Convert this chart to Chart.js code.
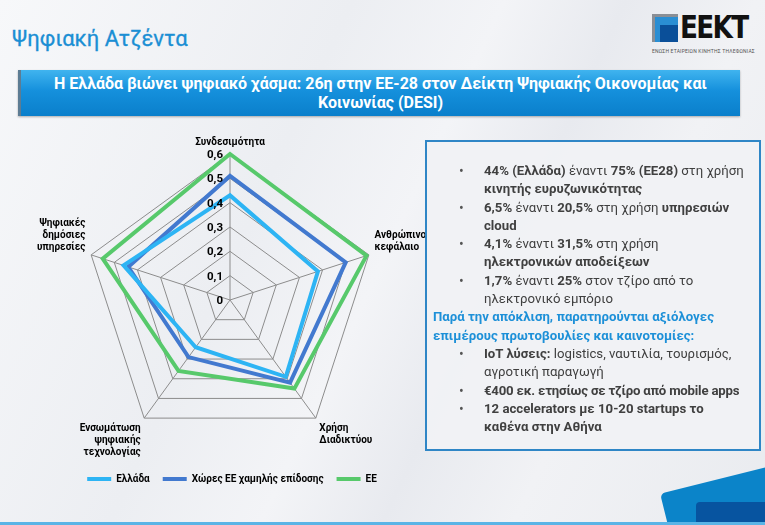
<!DOCTYPE html>
<html>
<head>
<meta charset="utf-8">
<script src="https://cdn.jsdelivr.net/npm/chart.js@4/dist/chart.umd.min.js"></script>
<style>
  html, body { margin: 0; padding: 0; }
  body {
    width: 765px; height: 525px; overflow: hidden; position: relative;
    font-family: Roboto, "Noto Sans", sans-serif;
    background: linear-gradient(115deg, #f7f8fa 0%, #eceef2 35%, #f3f4f7 50%, #e8eaef 62%, #f1f2f5 75%, #e9ebef 100%);
  }
  #title { position: absolute; left: 12px; top: 26px; font-size: 22px; color: #1b8fd4; -webkit-text-stroke: 0.3px #1b8fd4; }
  #logo { position: absolute; left: 652px; top: 14px; width: 90px; height: 42px; }
  #logo .sq1 { position: absolute; left: 3px; top: 3px; width: 23px; height: 25px; background: #2a8ed3; }
  #logo .sq2 { position: absolute; left: 8px; top: 11px; width: 18px; height: 17px; background: #0a4f99; }
  #logo .sq0 { position: absolute; left: 0; top: 0; width: 26px; height: 28px; background: #8a8f96; z-index: -1; }
  #logo .txt { position: absolute; left: 28px; top: -6px; font: bold 32px "DejaVu Sans", sans-serif; letter-spacing: -2px; color: #111; transform: scaleX(0.82); transform-origin: left; }
  #logo .tag { position: absolute; left: 0; top: 34px; font-size: 5px; color: #555; letter-spacing: 0.2px; white-space: nowrap; }
  #banner {
    position: absolute; left: 18px; top: 70px; width: 722px; height: 46px;
    background: linear-gradient(#40b4ef, #1590dc 45%, #0a7fcb);
    border-left: 3px solid #5d7c93; box-sizing: border-box;
    color: #fff; font-weight: bold; font-size: 16px; line-height: 19px;
    text-align: center; padding-top: 4px;
    box-shadow: 0 1px 2px rgba(0,0,0,0.3);
  }
  #wrap { position: absolute; left: 22px; top: 133px; width: 420px; height: 361px; }
  #box {
    position: absolute; left: 425px; top: 140px; width: 336px; height: 311px;
    border: 2px solid #2f86c6; box-sizing: border-box;
    background: rgba(240,241,245,0.96);
    color: #404040; font-size: 13.2px; line-height: 18.3px;
    padding: 20px 2px 0 6px; white-space: nowrap;
  }
  #box ul { margin: 0; padding: 0; list-style: none; }
  #box li { position: relative; padding-left: 51px; }
  #box li::before { content: "•"; position: absolute; left: 26px; font-size: 14px; color: #555; }
  #box b { font-weight: bold; }
  #box .blue { color: #1d90d8; font-weight: bold; }
  #corner1 { position: absolute; left: 668px; top: 478px; width: 120px; height: 80px; background: #0b84c9; transform: rotate(-14deg); border-radius: 5px; }
  #corner2 { position: absolute; left: 696px; top: 502px; width: 90px; height: 40px; background: #0754a0; border-radius: 4px; }
  #bottomline { position: absolute; left: 0; top: 522px; width: 765px; height: 3px; background: #5ab4e6; }
</style>
</head>
<body>
<div id="title">Ψηφιακή Ατζέντα</div>
<div id="logo">
  <div class="sq0"></div><div class="sq1"></div><div class="sq2"></div>
  <div class="txt">ΕΕΚΤ</div>
  <div class="tag">ΕΝΩΣΗ ΕΤΑΙΡΕΙΩΝ ΚΙΝΗΤΗΣ ΤΗΛΕΦΩΝΙΑΣ</div>
</div>
<div id="banner">Η Ελλάδα βιώνει ψηφιακό χάσμα: 26η στην ΕΕ-28 στον Δείκτη Ψηφιακής Οικονομίας και<br>Κοινωνίας (DESI)</div>
<div id="wrap"><canvas id="radar"></canvas></div>
<div id="box">
  <ul>
    <li><b>44% (Ελλάδα)</b> έναντι <b>75% (ΕΕ28)</b> στη χρήση<br><b>κινητής ευρυζωνικότητας</b></li>
    <li><b>6,5%</b> έναντι <b>20,5%</b> στη χρήση <b>υπηρεσιών</b><br><b>cloud</b></li>
    <li><b>4,1%</b> έναντι <b>31,5%</b> στη χρήση<br><b>ηλεκτρονικών αποδείξεων</b></li>
    <li><b>1,7%</b> έναντι <b>25%</b> στον τζίρο από το<br>ηλεκτρονικό εμπόριο</li>
  </ul>
  <div class="blue">Παρά την απόκλιση, παρατηρούνται αξιόλογες<br>επιμέρους πρωτοβουλίες και καινοτομίες:</div>
  <ul>
    <li><b>IoT λύσεις:</b> logistics, ναυτιλία, τουρισμός,<br>αγροτική παραγωγή</li>
    <li><b style="letter-spacing:-0.2px">€400 εκ. ετησίως σε τζίρο από mobile apps</b></li>
    <li><b>12 accelerators με 10-20 startups το<br>καθένα στην Αθήνα</b></li>
  </ul>
</div>
<div id="corner1"></div>
<div id="corner2"></div>
<div id="bottomline"></div>

<script>
var axesLabels = [
  'Συνδεσιμότητα',
  ['Ανθρώπινο', 'κεφάλαιο'],
  ['Χρήση', 'Διαδικτύου'],
  ['Ενσωμάτωση', 'ψηφιακής', 'τεχνολογίας'],
  ['Ψηφιακές', 'δημόσιες', 'υπηρεσίες']
];
var seriesNames = ['Ελλάδα', 'Χώρες ΕΕ χαμηλής επίδοσης', 'ΕΕ'];
var elladaValues = [0.43, 0.38, 0.39, 0.24, 0.46];
var xamilesValues = [0.51, 0.50, 0.42, 0.29, 0.44];
var eeValues = [0.60, 0.59, 0.45, 0.36, 0.55];
var tickValues = [0, 0.1, 0.2, 0.3, 0.4, 0.5, 0.6];

var colors = ['#2db4f4', '#4279cf', '#57c96b'];

function formataTick(v) {
  return v.toFixed(1).replace('.', ',').replace(/^0,0$/, '0');
}

// labels ton ticks aristera apo ton katheto axona
var tickLabelsPlugin = {
  id: 'tickLabels',
  afterDraw: function(chart) {
    var scale = chart.scales.r;
    var ctx = chart.ctx;
    ctx.save();
    ctx.font = 'bold 11.5px Roboto';
    ctx.fillStyle = '#000';
    ctx.textAlign = 'right';
    ctx.textBaseline = 'middle';
    tickValues.forEach(function(v) {
      var p = scale.getPointPosition(0, scale.getDistanceFromCenterForValue(v));
      ctx.fillText(formataTick(v), p.x - 7, p.y + 1);
    });
    ctx.restore();
  }
};

function criaDataset(nome, dados, cor) {
  return {
    label: nome,
    data: dados,
    borderColor: cor,
    backgroundColor: cor,
    borderWidth: 4,
    fill: false,
    pointRadius: 0,
    pointHoverRadius: 0
  };
}

var ctxChart = document.getElementById('radar').getContext('2d');
var chart = new Chart(ctxChart, {
  type: 'radar',
  data: {
    labels: axesLabels,
    datasets: [
      criaDataset(seriesNames[0], elladaValues, colors[0]),
      criaDataset(seriesNames[1], xamilesValues, colors[1]),
      criaDataset(seriesNames[2], eeValues, colors[2])
    ]
  },
  options: {
    responsive: true,
    maintainAspectRatio: false,
    animation: false,
    layout: { padding: { top: 0, bottom: 0 } },
    elements: { line: { tension: 0, borderJoinStyle: 'miter' } },
    plugins: {
      tooltip: { enabled: false },
      legend: {
        position: 'bottom',
        labels: {
          usePointStyle: true,
          pointStyle: 'line',
          pointStyleWidth: 24,
          color: '#000',
          font: { family: 'Roboto', size: 10, weight: 'bold' },
          padding: 13
        }
      }
    },
    scales: {
      r: {
        min: 0,
        max: 0.6,
        ticks: { stepSize: 0.1, display: false },
        grid: { color: '#8c8c8c', lineWidth: 1 },
        angleLines: { color: '#8c8c8c', lineWidth: 1 },
        pointLabels: {
          color: '#000',
          font: { family: 'Roboto', size: 10, weight: 'bold' },
          padding: 6
        }
      }
    }
  },
  plugins: [tickLabelsPlugin]
});
</script>
</body>
</html>
